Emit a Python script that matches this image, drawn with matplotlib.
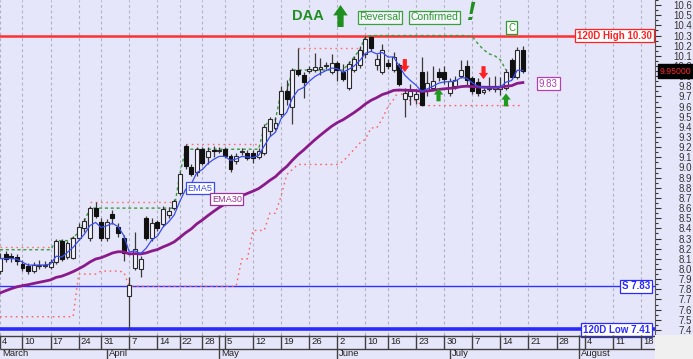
import numpy as np
import pandas as pd
import matplotlib
matplotlib.use("Agg")
import matplotlib.pyplot as plt
from matplotlib.ticker import FormatStrFormatter
from matplotlib.patches import Rectangle

plt.rcParams['font.family'] = ['Liberation Sans', 'DejaVu Sans']

# ---------------- data ----------------
start_date = '2025-03-04'
end_date = '2025-08-22'
closed_days = ['2025-03-28', '2025-04-18', '2025-04-21', '2025-05-01', '2025-06-09']

opens = [7.98, 8.15, 8.13, 8.12, 8.05, 8.03, 7.98, 8.03, 8.03, 8.02,
         8.07, 8.28, 8.12, 8.11, 8.31, 8.40, 8.31, 8.60, 8.46, 8.31,
         8.54, 8.41, 8.31, 7.73, 8.01, 8.00, 8.50, 8.31, 8.46, 8.44,
         8.53, 8.60, 8.75, 9.21, 9.00, 8.96, 9.18, 9.10, 9.17, 9.16,
         9.18, 9.11, 9.06, 9.15, 9.14, 9.14, 9.10, 9.14, 9.36, 9.39,
         9.53, 9.75, 9.60, 9.96, 9.91, 9.95, 9.96, 9.97, 10.00, 9.94,
         10.03, 9.94, 9.78, 9.96, 10.01, 10.12, 10.29, 10.01, 9.94, 10.03,
         9.96, 10.01, 9.67, 9.70, 9.67, 9.94, 9.76, 9.78, 9.94, 9.94,
         9.73, 9.80, 9.90, 10.00, 9.88, 9.84, 9.74, 9.77, 9.77, 9.77,
         9.78, 10.06, 9.89, 10.16]
highs = [8.16, 8.18, 8.16, 8.15, 8.09, 8.06, 8.07, 8.09, 8.08, 8.10,
         8.30, 8.30, 8.28, 8.33, 8.45, 8.50, 8.62, 8.66, 8.50, 8.49,
         8.58, 8.45, 8.34, 7.92, 8.36, 8.13, 8.52, 8.50, 8.48, 8.62,
         8.61, 8.69, 8.96, 9.23, 9.03, 9.20, 9.20, 9.20, 9.21, 9.20,
         9.20, 9.13, 9.14, 9.19, 9.17, 9.17, 9.19, 9.43, 9.50, 9.50,
         9.80, 9.86, 9.98, 10.18, 9.94, 10.00, 10.13, 10.08, 10.04, 10.12,
         10.05, 10.02, 10.05, 10.10, 10.20, 10.30, 10.30, 10.12, 10.22, 10.07,
         10.14, 10.03, 9.78, 9.82, 9.76, 10.09, 9.95, 10.00, 9.98, 10.00,
         9.88, 9.90, 10.06, 10.06, 9.90, 9.88, 9.78, 9.89, 9.90, 9.89,
         9.97, 10.08, 10.19, 10.20]
lows = [7.95, 8.07, 8.07, 8.04, 7.98, 7.95, 7.96, 8.00, 8.01, 8.00,
        8.05, 8.08, 8.10, 8.10, 8.29, 8.36, 8.28, 8.50, 8.28, 8.28,
        8.44, 8.32, 8.08, 7.41, 7.99, 7.92, 8.29, 8.28, 8.37, 8.42,
        8.50, 8.58, 8.73, 8.99, 8.92, 8.92, 9.02, 9.03, 9.10, 9.14,
        9.09, 8.96, 9.03, 9.12, 9.07, 9.04, 9.08, 9.12, 9.31, 9.37,
        9.50, 9.62, 9.43, 9.90, 9.68, 9.93, 9.94, 9.91, 9.97, 9.92,
        9.85, 9.85, 9.76, 9.94, 9.98, 10.08, 10.15, 9.96, 9.92, 9.97,
        9.94, 9.80, 9.50, 9.62, 9.63, 9.61, 9.70, 9.76, 9.85, 9.82,
        9.70, 9.77, 9.88, 9.80, 9.72, 9.70, 9.72, 9.75, 9.74, 9.71,
        9.76, 9.87, 9.87, 9.93]
closes = [8.11, 8.10, 8.11, 8.08, 8.01, 7.98, 8.04, 8.04, 8.04, 8.07,
          8.28, 8.10, 8.26, 8.31, 8.41, 8.47, 8.60, 8.52, 8.31, 8.46,
          8.50, 8.35, 8.16, 7.84, 8.20, 8.10, 8.31, 8.45, 8.40, 8.59,
          8.57, 8.67, 8.94, 9.01, 8.94, 9.18, 9.04, 9.16, 9.16, 9.17,
          9.11, 8.99, 9.11, 9.16, 9.09, 9.09, 9.16, 9.40, 9.48, 9.44,
          9.75, 9.67, 9.96, 9.92, 9.84, 9.97, 9.99, 9.99, 10.01, 10.03,
          9.96, 9.87, 10.02, 10.07, 10.16, 10.27, 10.18, 10.07, 10.16, 10.00,
          10.09, 9.82, 9.73, 9.75, 9.72, 9.62, 9.83, 9.85, 9.89, 9.87,
          9.85, 9.86, 9.96, 9.86, 9.75, 9.73, 9.76, 9.78, 9.79, 9.80,
          9.94, 9.89, 10.16, 9.95]

ema5_seed = 8.10
ema30_seed = 7.74
ema30_label = '9.83'

nan = np.nan
upper_red = ([8.22] * 10 + [nan] * 6 + [8.66] * 16 + [nan] + [9.23] * 14
             + [nan] * 6 + [10.18] * 12 + [nan] * 29)
green_trail = ([8.19] * 10 + [8.28, 8.28, 8.28, 8.31, 8.36, 8.47] + [8.60] * 16
               + [8.94] + [9.18] * 14 + [9.40, 9.47, 9.47, 9.75, 9.75]
               + [9.96] * 10 + [10.02, 10.09, 10.16, 10.29] + [10.30] * 18
               + [10.29, 10.22, 10.16, 10.12, 10.10, 10.06, 9.96] + [nan] * 3)
lower_red = ([7.53] * 14 + [7.95] * 4 + [7.98] * 4 + [7.97] + [7.83] * 20
             + [8.10, 8.10, 8.38, 8.38, 8.38, 8.55, 8.55, 8.72, 8.93, 8.98]
             + [9.03] * 8 + [9.06, 9.12, 9.18, 9.24, 9.28, 9.39, 9.39, 9.48,
                             9.60, 9.67, 9.76, 9.68, 9.66, 9.66] + [9.61] * 19)

high_120d = 10.30
low_120d = 7.41
support_level = 7.83
last_price = 9.95

sell_idx = [72, 86]
sell_tip = [9.94, 9.87]
buy_idx = [78, 90]
buy_tip = [9.78, 9.73]
confirm_idx = 91

# ---------------- derived ----------------
o = np.array(opens); h = np.array(highs); l = np.array(lows); c = np.array(closes)
xs = np.arange(len(c))


def ema(seed, values, span):
    a = 2.0 / (span + 1)
    out, e = [], seed
    for v in values:
        e = e + a * (v - e)
        out.append(e)
    return np.array(out)


ema5 = ema(ema5_seed, c, 5)
ema30 = ema(ema30_seed, c, 30)

dates = pd.bdate_range(start_date, end_date, freq='C', holidays=closed_days)
wk = [d.isocalendar()[1] for d in dates]
week_start = [0] + [i for i in range(1, len(dates)) if wk[i] != wk[i - 1]]
month_start = [0] + [i for i in range(1, len(dates)) if dates[i].month != dates[i - 1].month]

# ---------------- figure ----------------
BG = '#e6e6fa'
W, H = 693, 359
PR, PB = 655, 335
fig = plt.figure(figsize=(W / 100, H / 100), dpi=100)
fig.patch.set_facecolor(BG)
ax = fig.add_axes([0, (H - PB) / H, PR / W, PB / H])
ax.set_facecolor(BG)
XMAX = 116.5
ax.set_xlim(0, XMAX)
ax.set_ylim(7.35, 10.628)

for i in week_start:
    ax.axvline(i, color='#b0b0c2', lw=0.8, ls=(0, (2.5, 2.5)), zorder=0)

# horizontal levels
ax.axhline(high_120d, color='#ff3030', lw=1.8, zorder=2)
ax.axhline(support_level, color='#3030ff', lw=1.0, zorder=2)
ax.axhline(low_120d, color='#2a2aff', lw=2.6, zorder=2)

# bands
ax.plot(xs, upper_red, color='#ff7070', lw=1.0, ls=(0, (1.2, 2.6)), zorder=2)
ax.plot(xs, lower_red, color='#ff6060', lw=1.0, ls=(0, (1.2, 2.6)), zorder=2)
ax.plot(xs, green_trail, color='#3c9c3c', lw=1.0, ls=(0, (2.2, 2.0)), zorder=2)

# candles
up = c >= o
blo = np.minimum(o, c)
bh = np.maximum(np.abs(c - o), 0.006)
ax.vlines(xs, l, h, color='#3a3a3a', lw=0.9, zorder=3)
ax.bar(xs[up], bh[up], bottom=blo[up], width=0.7, facecolor='#f3f3ff',
       edgecolor='#2a2a2a', lw=0.8, zorder=4)
ax.bar(xs[~up], bh[~up], bottom=blo[~up], width=0.7, facecolor='#111111',
       edgecolor='#111111', lw=0.8, zorder=4)

# EMAs
ax.plot(xs, ema30, color='#8a1a8a', lw=2.0, zorder=5)
ax.plot(xs, ema5, color='#3a4cf0', lw=0.9, zorder=5)

# signal arrows
small = 'simple,head_length=0.45,head_width=0.68,tail_width=0.3'
for i, v in zip(sell_idx, sell_tip):
    ax.annotate('', xy=(i, v), xytext=(0, 13), textcoords='offset pixels',
                arrowprops=dict(arrowstyle=small, color='#ff2020', lw=0,
                                shrinkA=0, shrinkB=0), zorder=7)
for i, v in zip(buy_idx, buy_tip):
    ax.annotate('', xy=(i, v), xytext=(0, -13), textcoords='offset pixels',
                arrowprops=dict(arrowstyle=small, color='#1f9a1f', lw=0,
                                shrinkA=0, shrinkB=0), zorder=7)


# labels on lines
def boxed(txt, xy, off, color, ha='left', va='center', size=6.6, weight='normal', xycoords='data'):
    ax.annotate(txt, xy=xy, xycoords=xycoords, xytext=off, textcoords='offset pixels',
                ha=ha, va=va, fontsize=size, color=color, fontweight=weight, zorder=9,
                annotation_clip=False,
                bbox=dict(boxstyle='square,pad=0.18', fc='white', ec=color, lw=0.9))


boxed('EMA5', (33, ema5[33]), (2, 6), '#3a4cf0', va='top')
boxed('EMA30', (37.5, ema30[37]), (1, 12), '#a0309a', va='bottom')
boxed(ema30_label, (len(c) - 1, ema30[-1]), (16, -1), '#b040b0', size=7)
boxed(f'120D High {high_120d:.2f}', (1.0, high_120d), (-3, 0), '#ff2020', ha='right',
      size=7, weight='bold', xycoords=('axes fraction', 'data'))
boxed(f'S {support_level:.2f}', (1.0, support_level), (-5, 0), '#2a2aff', ha='right',
      size=7, weight='bold', xycoords=('axes fraction', 'data'))
boxed(f'120D Low {low_120d:.2f}', (1.0, low_120d), (-5, -1), '#2a2aff', ha='right',
      size=7, weight='bold', xycoords=('axes fraction', 'data'))
boxed('C', (confirm_idx, high_120d), (0, 3), '#2e9a2e', ha='center', va='bottom', size=7)

# right axis
ax.yaxis.tick_right()
ax.set_yticks(np.round(np.arange(7.4, 10.65, 0.1), 2))
ax.set_yticks(np.round(np.arange(7.35, 10.65, 0.1), 2), minor=True)
ax.yaxis.set_major_formatter(FormatStrFormatter('%.1f'))
ax.tick_params(axis='y', which='major', length=4.3, width=0.8, color='#333333',
               labelsize=7, labelcolor='#333333', pad=22.5)
ax.tick_params(axis='y', which='minor', length=2.2, width=0.8, color='#333333')
for t in ax.get_yticklabels():
    t.set_horizontalalignment('right')
ax.tick_params(axis='x', bottom=False, labelbottom=False)
for s in ['top', 'left', 'bottom']:
    ax.spines[s].set_visible(False)
ax.spines['right'].set_color('#555555')
ax.spines['right'].set_linewidth(0.8)

# last price tag
ax.annotate(f'{last_price:.5f}', xy=(1.0, last_price), xycoords=('axes fraction', 'data'),
            xytext=(5, 0), textcoords='offset pixels', ha='left', va='center',
            fontsize=6.3, color='#ff2a2a', zorder=10, annotation_clip=False,
            bbox=dict(boxstyle='square,pad=0.25', fc='black', ec='black'))

# date axis
axd = fig.add_axes([0, 0, PR / W, (H - PB) / H])
axd.set_xlim(0, XMAX)
axd.set_ylim(0, 24)
axd.axis('off')
axd.hlines([23.5, 10.5], 0, XMAX, color='#404040', lw=1.0)
axd.vlines(week_start, 10.5, 24, color='#404040', lw=1.0)
axd.vlines(month_start[1:], 0, 10.5, color='#404040', lw=1.0)
prev_week = lambda m: max(w for w in week_start if w <= m)
row1_month = [m for m in month_start[1:] if m - prev_week(m) >= 2]
axd.vlines(row1_month, 10.5, 24, color='#404040', lw=1.0)
for i in week_start:
    axd.annotate(str(dates[i].day), xy=(i, 17), xytext=(2, 0), textcoords='offset pixels',
                 ha='left', va='center', fontsize=6.8, color='#222222', annotation_clip=False)
for i in month_start:
    axd.annotate(dates[i].strftime('%B'), xy=(i, 5), xytext=(2, 0), textcoords='offset pixels',
                 ha='left', va='center', fontsize=6.8, color='#222222', annotation_clip=False)
fig.patches.append(Rectangle((PR / W, 0), 1 - PR / W, (H - PB) / H, transform=fig.transFigure,
                             facecolor='#f0f0f0', edgecolor='none', zorder=0))

# title annotation
G = '#1f8f1f'
fig.text(292 / W, 1 - 16 / H, 'DAA', fontsize=10.5, fontweight='bold', color=G,
         ha='left', va='center')
ax.annotate('', xy=(340.5, H - 5), xycoords='figure pixels', xytext=(340.5, H - 27),
            textcoords='figure pixels',
            arrowprops=dict(arrowstyle='simple,head_length=0.75,head_width=1.05,tail_width=0.45',
                            color=G, lw=0, shrinkA=0, shrinkB=0), annotation_clip=False)
for txt, xp in [('Reversal', 380), ('Confirmed', 434)]:
    fig.text(xp / W, 1 - 17.5 / H, txt, fontsize=7.5, color='#2e9a2e', ha='center', va='center',
             bbox=dict(boxstyle='square,pad=0.15', fc='#f4f4fc', ec='#3aa03a', lw=0.9))
fig.text(471 / W, 1 - 13 / H, '!', fontsize=19, fontweight='bold', fontstyle='italic',
         color=G, ha='center', va='center')

fig.savefig('out.png', dpi=100, facecolor=BG)
